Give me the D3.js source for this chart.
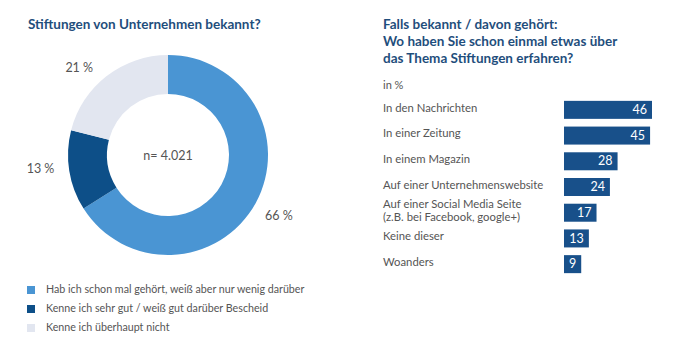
<!DOCTYPE html>
<html><head><meta charset="utf-8">
<script src="https://cdn.jsdelivr.net/npm/d3@7"></script>
<style>
body{margin:0;background:#fff;}
svg{display:block;font-family:Lato,"Open Sans",sans-serif;}
</style></head>
<body>
<svg id="c" width="680" height="344"></svg>
<script>
const pieLabels = ["Hab ich schon mal gehört, weiß aber nur wenig darüber","Kenne ich sehr gut / weiß gut darüber Bescheid","Kenne ich überhaupt nicht"];
const pieValues = [66, 13, 21];
const pieColors = ["#4a95d3", "#0d4f88", "#e2e6f0"];
const barCategories = [["In den Nachrichten"],["In einer Zeitung"],["In einem Magazin"],["Auf einer Unternehmenswebsite"],["Auf einer Social Media Seite","(z.B. bei Facebook, google+)"],["Keine dieser"],["Woanders"]];
const barValues = [46, 45, 28, 24, 17, 13, 9];

const svg = d3.select("#c");
const titleColor = "#1f4e7c", textColor = "#555";

// Left title
svg.append("text").attr("x",28).attr("y",29).attr("fill",titleColor)
  .attr("font-size",13.5).attr("font-weight",700).text("Stiftungen von Unternehmen bekannt?");

// Donut
const cx = 168, cy = 155, rO = 100, rI = 61;
const g = svg.append("g").attr("transform",`translate(${cx},${cy})`);
const pie = d3.pie().sort(null).value(d=>d)(pieValues);
const arc = d3.arc().innerRadius(rI).outerRadius(rO);
g.selectAll("path").data(pie).enter().append("path")
  .attr("d",arc).attr("fill",(d,i)=>pieColors[i]);
const labelArc = d3.arc().innerRadius(rO+22).outerRadius(rO+22);
const offs = [[4,3],[-7,-4],[-14,10]];
g.selectAll("text.pl").data(pie).enter().append("text")
  .attr("x",(d,i)=>labelArc.centroid(d)[0]+offs[i][0])
  .attr("y",(d,i)=>labelArc.centroid(d)[1]+offs[i][1])
  .attr("text-anchor","middle").attr("dominant-baseline","middle")
  .attr("font-size",12.5).attr("fill",textColor).text(d=>d.data+" %");
g.append("text").attr("x",0).attr("y",2).attr("text-anchor","middle")
  .attr("dominant-baseline","middle").attr("font-size",12.5).attr("fill",textColor).text("n= 4.021");

// Legend
const leg = svg.append("g");
pieLabels.forEach((t,i)=>{
  const y = 290 + i*19;
  leg.append("rect").attr("x",27).attr("y",y-4).attr("width",8).attr("height",8).attr("fill",pieColors[i]);
  leg.append("text").attr("x",46).attr("y",y).attr("dominant-baseline","middle")
    .attr("font-size",10.7).attr("fill",textColor).text(t);
});

// Right title
["Falls bekannt / davon gehört:","Wo haben Sie schon einmal etwas über","das Thema Stiftungen erfahren?"].forEach((t,i)=>{
  svg.append("text").attr("x",383).attr("y",29+i*17).attr("fill",titleColor)
    .attr("font-size",13.5).attr("font-weight",700).text(t);
});
svg.append("text").attr("x",383).attr("y",89).attr("font-size",11).attr("fill",textColor).text("in %");

// Bars
const x = d3.scaleLinear().domain([0,46]).range([564,652]);
const y = d3.scaleBand().domain(d3.range(barValues.length)).range([97,277]).paddingInner(0.3).paddingOuter(0.15);
const bg = svg.append("g");
barValues.forEach((v,i)=>{
  const yy = y(i), h = y.bandwidth(), cyy = yy + h/2;
  bg.append("rect").attr("x",x(0)).attr("y",yy).attr("width",x(v)-x(0)).attr("height",h).attr("fill","#18508a");
  bg.append("text").attr("x",x(v)-5).attr("y",cyy+1).attr("text-anchor","end").attr("dominant-baseline","middle")
    .attr("font-size",12.5).attr("fill","#fff").text(v);
  const lines = barCategories[i];
  lines.forEach((l,j)=>{
    bg.append("text").attr("x",383).attr("y",cyy - 1 + (j-(lines.length-1)/2)*12.5)
      .attr("dominant-baseline","middle").attr("font-size",11.3).attr("fill",textColor).text(l);
  });
});
</script>
</body></html>
